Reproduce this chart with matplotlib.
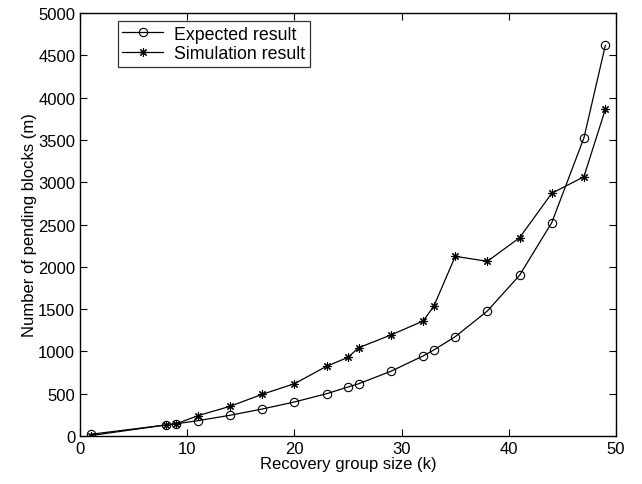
import matplotlib
matplotlib.use("Agg")
import matplotlib.pyplot as plt

plt.rcParams['font.family'] = ['Liberation Sans', 'DejaVu Sans']

k = [1, 8, 9, 11, 14, 17, 20, 23, 25, 26, 29, 32, 33, 35, 38, 41, 44, 47, 49]
expected = [20, 130, 145, 181, 245, 319, 402, 500, 579, 618, 765, 946, 1017,
            1174, 1478, 1900, 2522, 3523, 4618]
simulation = [5, 130, 145, 240, 351, 493, 618, 824, 930, 1044, 1194, 1359, 1533,
              2124, 2065, 2344, 2869, 3065, 3862]

fig = plt.figure(figsize=(6.42, 4.85), dpi=100)
ax = fig.add_axes([0.1246, 0.099, 0.835, 0.872])

ax.plot(k, expected, color='k', lw=0.9, marker='o', markersize=6,
        markerfacecolor='none', markeredgewidth=0.8, label='Expected result')
ax.plot(k, simulation, color='k', lw=0.9, marker=(8, 2, 0), markersize=6,
        markeredgewidth=0.8, label='Simulation result')

ax.set_xlim(0, 50)
ax.set_ylim(0, 5000)
ax.set_xticks(range(0, 51, 10))
ax.set_yticks(range(0, 5001, 500))
ax.tick_params(direction='in', top=True, right=True, labelsize=12, length=5)
for s in ax.spines.values():
    s.set_linewidth(1.0)

ax.set_xlabel('Recovery group size (k)', fontsize=12, labelpad=0)
ax.set_ylabel('Number of pending blocks (m)', fontsize=12, labelpad=1)

leg = ax.legend(loc='upper left', bbox_to_anchor=(0.071, 0.981), fontsize=12.8,
                frameon=True, fancybox=False, edgecolor='k', borderpad=0.25,
                labelspacing=0.15, handlelength=2.3, handletextpad=0.6,
                borderaxespad=0)
leg.get_frame().set_linewidth(0.9)

fig.savefig('out.png', dpi=100)
